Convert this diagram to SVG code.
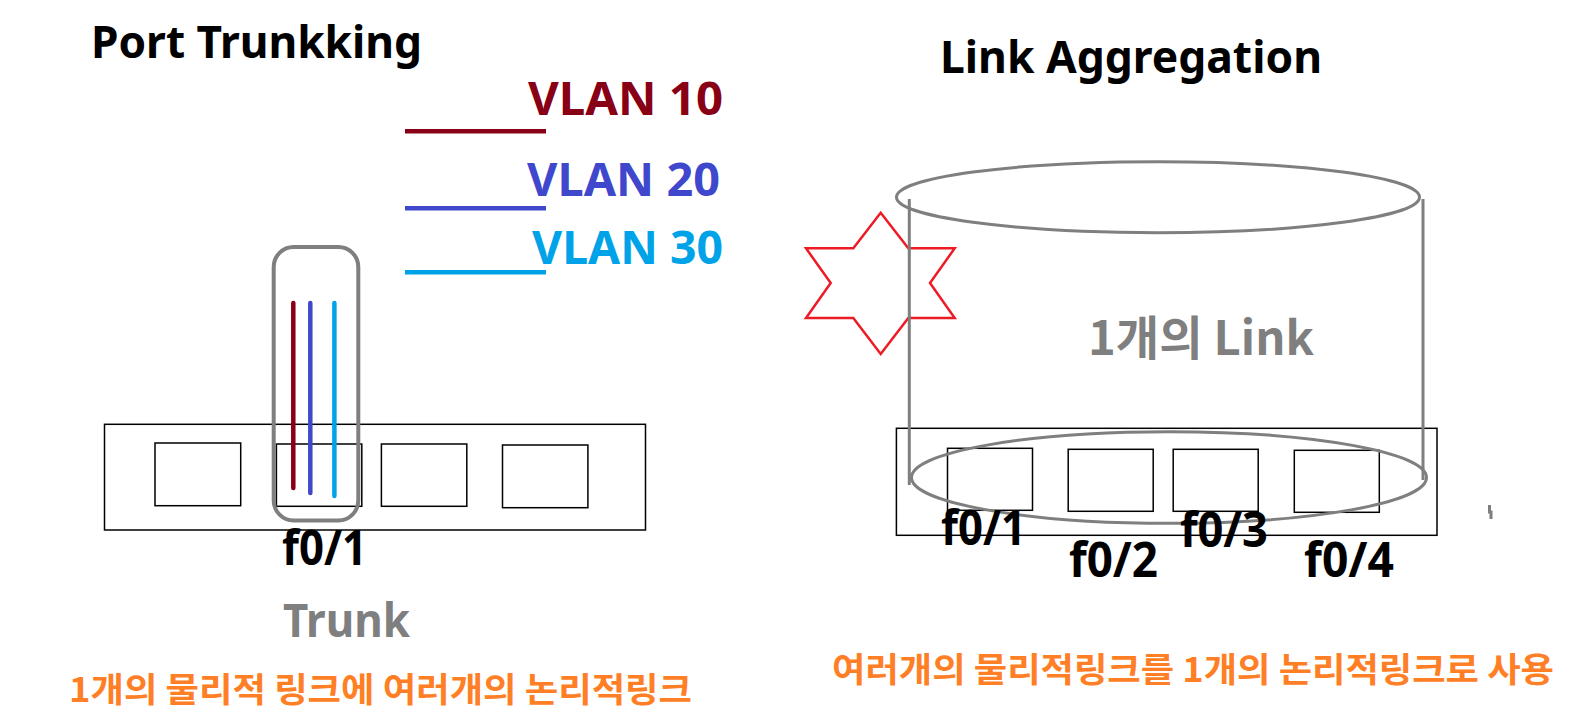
<svg xmlns="http://www.w3.org/2000/svg" width="1580" height="721" viewBox="0 0 1580 721">
<style>
.bg{fill:#ffffff}
.box{fill:none;stroke:#000000;stroke-width:1.5}
.gray{fill:none;stroke:#7f7f7f;stroke-width:3}
.lat{font-family:"Noto Sans","Open Sans","Liberation Sans",sans-serif;font-weight:bold}
.kr{font-family:"Noto Sans CJK KR","Noto Sans",sans-serif;font-weight:bold}
.blk{fill:#000000}
.gtx{fill:#7f7f7f}
.org{fill:#ff7f27}
</style>
<rect class="bg" x="0" y="0" width="1580" height="721"/>

<g id="title-left">
<text class="lat blk" x="91" y="58" font-size="45" textLength="331" lengthAdjust="spacingAndGlyphs">Port Trunkking</text>
</g>
<g id="title-right">
<text class="lat blk" x="940" y="73" font-size="45" textLength="382" lengthAdjust="spacingAndGlyphs">Link Aggregation</text>
</g>

<g id="vlan-legend">
<line x1="405" y1="131.3" x2="546" y2="131.3" stroke="#880015" stroke-width="4.5"/>
<line x1="405" y1="208.3" x2="546" y2="208.3" stroke="#3f48cc" stroke-width="4.5"/>
<line x1="405" y1="272.3" x2="546" y2="272.3" stroke="#00a2e8" stroke-width="4.5"/>
<text class="lat" x="528" y="115" font-size="46" fill="#880015" textLength="195" lengthAdjust="spacingAndGlyphs">VLAN 10</text>
<text class="lat" x="527" y="196" font-size="46" fill="#3f48cc" textLength="193" lengthAdjust="spacingAndGlyphs">VLAN 20</text>
<text class="lat" x="532" y="264" font-size="46" fill="#00a2e8" textLength="191" lengthAdjust="spacingAndGlyphs">VLAN 30</text>
</g>

<g id="switch-left">
<rect class="box" x="104.5" y="424.3" width="541" height="105.7"/>
<rect class="box" x="155" y="443" width="85.7" height="62.7"/>
<rect class="box" x="276.4" y="444" width="85.4" height="62.3"/>
<rect class="box" x="381.4" y="444" width="85.4" height="62.3"/>
<rect class="box" x="502.5" y="445" width="85.4" height="62.7"/>
</g>

<g id="trunk">
<rect x="273.7" y="247" width="84.6" height="273.5" rx="20" ry="20" fill="none" stroke="#7f7f7f" stroke-width="4"/>
<line x1="293.3" y1="303" x2="293.3" y2="488" stroke="#880015" stroke-width="4.5" stroke-linecap="round"/>
<line x1="310.3" y1="303" x2="310.3" y2="493" stroke="#3f48cc" stroke-width="4.5" stroke-linecap="round"/>
<line x1="334.4" y1="303" x2="334.4" y2="496" stroke="#00a2e8" stroke-width="4.5" stroke-linecap="round"/>
</g>

<g id="labels-left">
<text class="lat blk" x="282" y="565" font-size="48" textLength="85" lengthAdjust="spacingAndGlyphs">f0/1</text>
<text class="lat gtx" x="283" y="637" font-size="47" textLength="127" lengthAdjust="spacingAndGlyphs">Trunk</text>
<text class="kr org" x="69" y="702" font-size="34" textLength="623" lengthAdjust="spacingAndGlyphs">1개의 물리적 링크에 여러개의 논리적링크</text>
</g>

<g id="star">
<path d="M880.7,212.7 L908.3,248.3 L954.7,248.3 L930,283 L954.7,318 L908.3,318 L880.7,354 L853.3,318 L806,318 L830.7,283 L806,248.3 L853.3,248.3 Z" fill="none" stroke="#ed1c24" stroke-width="2.5"/>
</g>

<g id="switch-right">
<rect class="box" x="896.4" y="428.3" width="540.6" height="107"/>
<rect class="box" x="947.5" y="448.3" width="85" height="62"/>
<rect class="box" x="1068.2" y="449.3" width="85" height="62"/>
<rect class="box" x="1173.2" y="449.3" width="85" height="62"/>
<rect class="box" x="1294.3" y="450.3" width="85" height="62"/>
</g>

<g id="cylinder">
<ellipse class="gray" cx="1158" cy="197.2" rx="261.5" ry="35.5"/>
<line class="gray" x1="909.3" y1="199" x2="909.3" y2="485"/>
<line class="gray" x1="1423" y1="199" x2="1423" y2="480"/>
<ellipse class="gray" cx="1169" cy="477.5" rx="257.5" ry="45.8"/>
<text class="kr gtx" x="1088" y="355" font-size="47" textLength="226" lengthAdjust="spacingAndGlyphs">1개의 Link</text>
</g>

<g id="labels-right">
<text class="lat blk" x="941" y="545" font-size="48" textLength="85" lengthAdjust="spacingAndGlyphs">f0/1</text>
<text class="lat blk" x="1069" y="577" font-size="48" textLength="89" lengthAdjust="spacingAndGlyphs">f0/2</text>
<text class="lat blk" x="1180" y="547" font-size="48" textLength="88" lengthAdjust="spacingAndGlyphs">f0/3</text>
<text class="lat blk" x="1304" y="577" font-size="48" textLength="90" lengthAdjust="spacingAndGlyphs">f0/4</text>
<text class="kr org" x="832" y="682" font-size="34" textLength="722" lengthAdjust="spacingAndGlyphs">여러개의 물리적링크를 1개의 논리적링크로 사용</text>
</g>

<g id="mark">
<path d="M1489.5,505 L1489.5,512 L1491,512 L1491,519" fill="none" stroke="#7f7f7f" stroke-width="3"/>
</g>
</svg>
